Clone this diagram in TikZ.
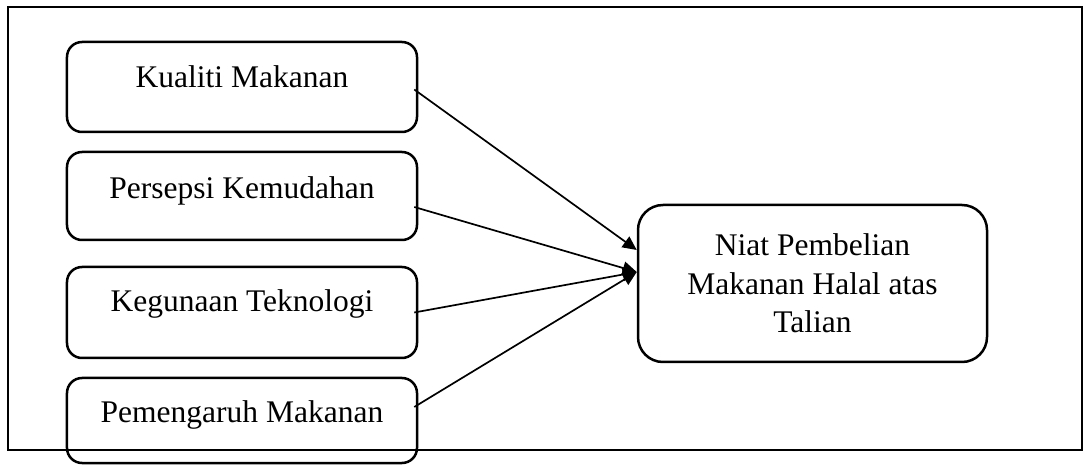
\documentclass[tikz,border=0pt]{standalone}
\usepackage{fontspec}
\setmainfont{Liberation Serif}
\usetikzlibrary{arrows.meta,calc}
\begin{document}
\begin{tikzpicture}[x=1bp,y=-1bp,
  srcbox/.style={draw,line width=2.5bp,rounded corners=15bp,inner sep=0pt,
    minimum width=350bp,anchor=base,
    font=\fontsize{31.5bp}{38.5bp}\selectfont},
  tgtbox/.style={draw,line width=2.5bp,rounded corners=25bp,inner sep=0pt,
    minimum width=349bp,minimum height=157bp,align=center,
    font=\fontsize{31.5bp}{38.5bp}\selectfont},
  conn/.style={line width=1.7bp,-{Triangle[length=14bp,width=13bp]}}]
\useasboundingbox (0,0) rectangle (1087,465);
\draw[line width=2.7bp] (8,7) rectangle (1082,450);
\node[srcbox,text height=45.5bp,text depth=44.5bp] (k) at (242,87.5) {Kualiti Makanan};
\node[srcbox,text height=47bp,text depth=41bp] (p) at (242,199) {Persepsi Kemudahan};
\node[srcbox,text height=45bp,text depth=46bp] (g) at (242,312) {Kegunaan Teknologi};
\node[srcbox,text height=45bp,text depth=40bp] (m) at (242,423) {Pemengaruh Makanan};
\node[tgtbox] (n) at (812.5,283.5) {Niat Pembelian\\Makanan Halal atas\\Talian};
\draw[conn] ($(k.east)+(-4,2.5)$) -- ($(n.west)+(0,-33.5)$);
\draw[conn] ($(p.east)+(-4,11)$) -- ($(n.west)+(0,-11.5)$);
\draw[conn] ($(g.east)+(-4,0)$) -- ($(n.west)+(0,-11.5)$);
\draw[conn] ($(m.east)+(-4,-13.5)$) -- ($(n.west)+(0,-11.5)$);
\end{tikzpicture}
\end{document}
